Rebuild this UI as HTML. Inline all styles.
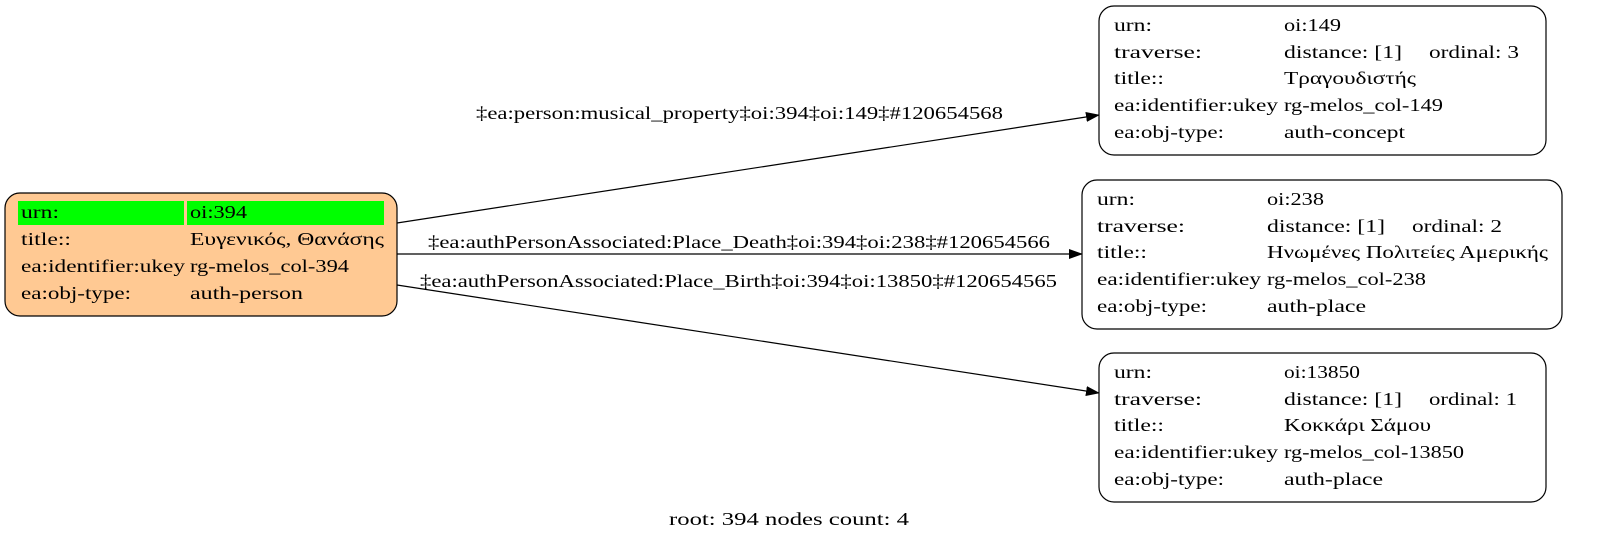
<!DOCTYPE html>
<html><head><meta charset="utf-8"><style>
html,body{margin:0;padding:0;background:#fff;width:1611px;height:553px;overflow:hidden;}
svg{display:block;}
text{font-family:"Liberation Serif","DejaVu Serif",serif;font-size:18px;fill:#000;}
</style></head><body>
<svg width="1611" height="553" viewBox="0 0 1611 553" xmlns="http://www.w3.org/2000/svg">
<defs><marker id="a" markerWidth="14" markerHeight="10" refX="13" refY="5" orient="auto" markerUnits="userSpaceOnUse"><path d="M0,0 L14,5 L0,10 z" fill="#000"/></marker></defs>
<line x1="397" y1="223" x2="1099" y2="115" stroke="#000" stroke-width="1.2" marker-end="url(#a)"/>
<line x1="397" y1="254" x2="1082" y2="254" stroke="#000" stroke-width="1.2" marker-end="url(#a)"/>
<line x1="397" y1="285" x2="1099" y2="393" stroke="#000" stroke-width="1.2" marker-end="url(#a)"/>
<text x="476" y="119" textLength="527" lengthAdjust="spacingAndGlyphs">‡ea:person:musical_property‡oi:394‡oi:149‡#120654568</text>
<text x="428" y="248" textLength="622" lengthAdjust="spacingAndGlyphs">‡ea:authPersonAssociated:Place_Death‡oi:394‡oi:238‡#120654566</text>
<text x="420" y="287" textLength="637" lengthAdjust="spacingAndGlyphs">‡ea:authPersonAssociated:Place_Birth‡oi:394‡oi:13850‡#120654565</text>
<rect x="5" y="193" width="392" height="123" rx="15" fill="#ffc993" stroke="#000" stroke-width="1.2"/>
<rect x="18" y="201" width="166" height="24" fill="#00ff00"/>
<rect x="187" y="201" width="197" height="24" fill="#00ff00"/>
<g lengthAdjust="spacingAndGlyphs">
<text x="21" y="218" textLength="38" lengthAdjust="spacingAndGlyphs">urn:</text><text x="190" y="218" textLength="57" lengthAdjust="spacingAndGlyphs">oi:394</text>
<text x="21" y="245" textLength="50" lengthAdjust="spacingAndGlyphs">title::</text><text x="190" y="245" textLength="194" lengthAdjust="spacingAndGlyphs">Ευγενικός, Θανάσης</text>
<text x="21" y="272" textLength="164" lengthAdjust="spacingAndGlyphs">ea:identifier:ukey</text><text x="190" y="272" textLength="159" lengthAdjust="spacingAndGlyphs">rg-melos_col-394</text>
<text x="21" y="299" textLength="110" lengthAdjust="spacingAndGlyphs">ea:obj-type:</text><text x="190" y="299" textLength="113" lengthAdjust="spacingAndGlyphs">auth-person</text>
</g>
<rect x="1099" y="6" width="447" height="149" rx="15" fill="#fff" stroke="#000" stroke-width="1.2"/>
<text x="1114" y="31" textLength="38" lengthAdjust="spacingAndGlyphs">urn:</text><text x="1284" y="31" textLength="57" lengthAdjust="spacingAndGlyphs">oi:149</text>
<text x="1114" y="58" textLength="88" lengthAdjust="spacingAndGlyphs">traverse:</text><text x="1284" y="58" textLength="118" lengthAdjust="spacingAndGlyphs">distance: [1]</text><text x="1429" y="58" textLength="90" lengthAdjust="spacingAndGlyphs">ordinal: 3</text>
<text x="1114" y="84" textLength="50" lengthAdjust="spacingAndGlyphs">title::</text><text x="1284" y="84" textLength="132" lengthAdjust="spacingAndGlyphs">Τραγουδιστής</text>
<text x="1114" y="111" textLength="164" lengthAdjust="spacingAndGlyphs">ea:identifier:ukey</text><text x="1284" y="111" textLength="159" lengthAdjust="spacingAndGlyphs">rg-melos_col-149</text>
<text x="1114" y="138" textLength="110" lengthAdjust="spacingAndGlyphs">ea:obj-type:</text><text x="1284" y="138" textLength="121" lengthAdjust="spacingAndGlyphs">auth-concept</text>
<rect x="1082" y="180" width="480" height="149" rx="15" fill="#fff" stroke="#000" stroke-width="1.2"/>
<text x="1097" y="205" textLength="38" lengthAdjust="spacingAndGlyphs">urn:</text><text x="1267" y="205" textLength="57" lengthAdjust="spacingAndGlyphs">oi:238</text>
<text x="1097" y="232" textLength="88" lengthAdjust="spacingAndGlyphs">traverse:</text><text x="1267" y="232" textLength="118" lengthAdjust="spacingAndGlyphs">distance: [1]</text><text x="1412" y="232" textLength="90" lengthAdjust="spacingAndGlyphs">ordinal: 2</text>
<text x="1097" y="258" textLength="50" lengthAdjust="spacingAndGlyphs">title::</text><text x="1267" y="258" textLength="281" lengthAdjust="spacingAndGlyphs">Ηνωμένες Πολιτείες Αμερικής</text>
<text x="1097" y="285" textLength="164" lengthAdjust="spacingAndGlyphs">ea:identifier:ukey</text><text x="1267" y="285" textLength="159" lengthAdjust="spacingAndGlyphs">rg-melos_col-238</text>
<text x="1097" y="312" textLength="110" lengthAdjust="spacingAndGlyphs">ea:obj-type:</text><text x="1267" y="312" textLength="99" lengthAdjust="spacingAndGlyphs">auth-place</text>
<rect x="1099" y="353" width="447" height="149" rx="15" fill="#fff" stroke="#000" stroke-width="1.2"/>
<text x="1114" y="378" textLength="38" lengthAdjust="spacingAndGlyphs">urn:</text><text x="1284" y="378" textLength="76" lengthAdjust="spacingAndGlyphs">oi:13850</text>
<text x="1114" y="405" textLength="88" lengthAdjust="spacingAndGlyphs">traverse:</text><text x="1284" y="405" textLength="118" lengthAdjust="spacingAndGlyphs">distance: [1]</text><text x="1429" y="405" textLength="88" lengthAdjust="spacingAndGlyphs">ordinal: 1</text>
<text x="1114" y="431" textLength="50" lengthAdjust="spacingAndGlyphs">title::</text><text x="1284" y="431" textLength="147" lengthAdjust="spacingAndGlyphs">Κοκκάρι Σάμου</text>
<text x="1114" y="458" textLength="164" lengthAdjust="spacingAndGlyphs">ea:identifier:ukey</text><text x="1284" y="458" textLength="180" lengthAdjust="spacingAndGlyphs">rg-melos_col-13850</text>
<text x="1114" y="485" textLength="110" lengthAdjust="spacingAndGlyphs">ea:obj-type:</text><text x="1284" y="485" textLength="99" lengthAdjust="spacingAndGlyphs">auth-place</text>
<text x="669" y="525" textLength="240" lengthAdjust="spacingAndGlyphs">root: 394 nodes count: 4</text>
</svg>
</body></html>
